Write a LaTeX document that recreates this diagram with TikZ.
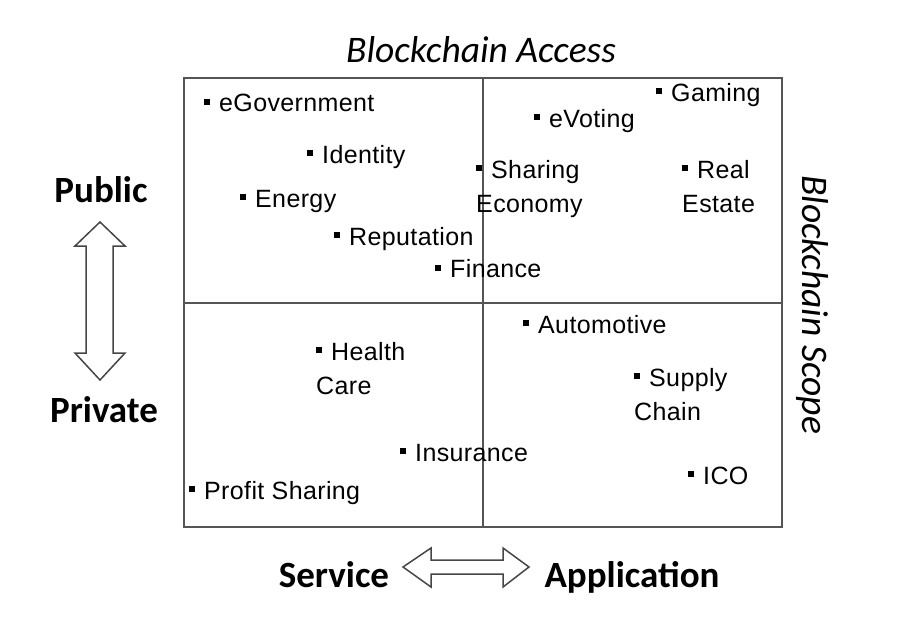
\documentclass[tikz,border=0pt]{standalone}
\usepackage{fontspec}
\newfontfamily\itemfont[LetterSpace=1.5]{Liberation Sans}
\newfontfamily\calib{Carlito}
\newcommand\bul{\rule[7pt]{6pt}{6pt}\hspace{9pt}}
\definecolor{gridgray}{RGB}{85,85,85}
\definecolor{arrgray}{RGB}{70,70,70}
\begin{document}
\begin{tikzpicture}[x=1pt,y=-1pt,
  item/.style={anchor=base west, inner sep=0pt, align=left,
    font=\itemfont\fontsize{25}{34}\selectfont},
  lab/.style={anchor=base, inner sep=0pt, font=\calib\bfseries\fontsize{37}{42}\selectfont},
  axis/.style={anchor=base, inner sep=0pt, font=\calib\itshape\fontsize{37.5}{42}\selectfont},
  grid/.style={draw=gridgray, line width=2pt},
  dblarrow/.style={draw=arrgray, line width=1.5pt, fill=white, line join=miter}]
\path[use as bounding box] (0,0) rectangle (919,622);

% frame and dividers
\draw[grid] (184,78) rectangle (782,527);
\draw[grid] (483,78) -- (483,527);
\draw[grid] (184,303) -- (782,303);

% items (base anchor = baseline of the last line)
\node[item] (egov) at (204,111.5) {\bul eGovernment};
\node[item] (ident) at (307,163) {\bul Identity};
\node[item] (energy) at (240,207) {\bul Energy};
\node[item] (rep) at (334,245) {\bul Reputation};
\node[item] (fin) at (435,277.5) {\bul Finance};
\node[item] (share) at (476,212) {\bul Sharing\\Economy};
\node[item] (evote) at (534,127) {\bul eVoting};
\node[item] (gaming) at (656,101) {\bul Gaming};
\node[item] (real) at (682,212) {\bul Real\\Estate};
\node[item] (auto) at (523,333) {\bul Automotive};
\node[item] (health) at (316,394) {\bul Health\\Care};
\node[item] (supply) at (634,420) {\bul Supply\\Chain};
\node[item] (insur) at (400,461) {\bul Insurance};
\node[item] (ico) at (688,484) {\bul ICO};
\node[item] (profit) at (189,499) {\bul Profit Sharing};

% axis titles
\node[axis] (access) at (481,62) {Blockchain Access};
\node[axis, rotate=-90] (scope) at (802,304.5) {Blockchain Scope};

% side labels
\node[lab] (public) at (101,202) {Public};
\node[lab] (private) at (104,422) {Private};
\node[lab] (service) at (334,587) {Service};
\node[lab] (appl) at (632,587) {Application};

% double arrows
\draw[dblarrow] (100,222) -- (125,246) -- (113,246) -- (113,353) -- (125,353)
  -- (100,380) -- (75,353) -- (86,353) -- (86,246) -- (75,246) -- cycle;
\draw[dblarrow] (403,567) -- (431,548) -- (431,560) -- (503,560) -- (503,548)
  -- (529,567) -- (503,587) -- (503,574) -- (431,574) -- (431,587) -- cycle;
\end{tikzpicture}
\end{document}
